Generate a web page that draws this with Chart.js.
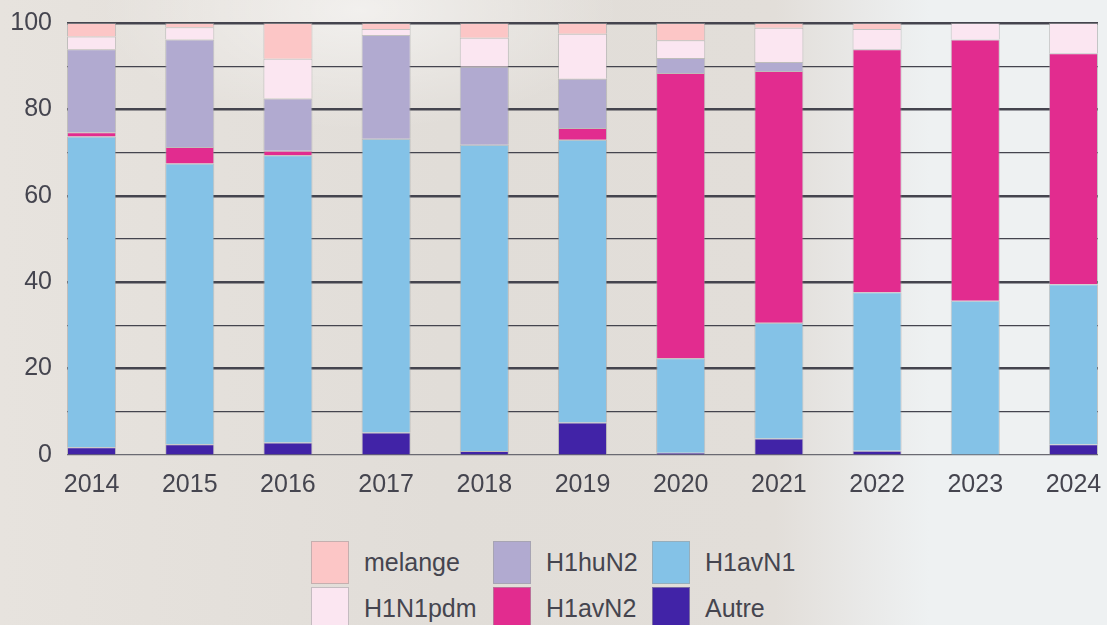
<!DOCTYPE html>
<html>
<head>
<meta charset="utf-8">
<script src="https://cdn.jsdelivr.net/npm/chart.js@4"></script>
<style>
    html, body {
        margin: 0;
        padding: 0;
        width: 1107px;
        height: 625px;
        overflow: hidden;
        font-family: 'Liberation Sans', Arial, sans-serif;
    }
    body {
        position: relative;
        background:
            radial-gradient(ellipse 260px 120px at 360px 10px, rgba(255,255,255,0.55), rgba(255,255,255,0) 100%),
            linear-gradient(90deg, #e7e3de 0%, #e1ddd8 40%, #e2ded9 70%, #e9e9e8 78%, #eef1f2 84%, #eef1f2 100%);
    }
    #chart {
        position: absolute;
        left: 0;
        top: 0;
    }
    #legend {
        position: absolute;
        left: 311px;
        top: 541px;
        display: grid;
        grid-template-columns: 182px 159px auto;
        grid-template-rows: 42px 42px;
        row-gap: 4px;
        grid-auto-flow: column;
    }
    .item {
        display: flex;
        align-items: center;
        font-size: 25px;
        color: #45454f;
    }
    .box {
        width: 36px;
        height: 41px;
        border: 1px solid rgba(160, 160, 160, 0.6);
        margin-right: 15px;
    }
</style>
</head>
<body>
<canvas id="chart" width="1107" height="510"></canvas>
<div id="legend"></div>
<script>
// years and share of each subtype (%)
var years = [2014, 2015, 2016, 2017, 2018, 2019, 2020, 2021, 2022, 2023, 2024];
var autre = [1.8, 2.5, 2.9, 5.2, 0.9, 7.5, 0.5, 3.8, 1.0, 0, 2.5];
var h1avN1 = [71.9, 65.0, 66.5, 68.0, 70.9, 65.5, 21.9, 26.8, 36.7, 35.7, 37.0];
var h1avN2 = [1.0, 3.8, 1.0, 0, 0, 2.7, 66.0, 58.3, 56.2, 60.5, 53.5];
var h1huN2 = [19.2, 24.9, 12.1, 24.0, 18.1, 11.4, 3.5, 2.1, 0, 0, 0];
var h1n1pdm = [3.0, 2.8, 9.2, 1.4, 6.7, 10.4, 4.1, 7.9, 4.7, 3.8, 7.0];
var melange = [3.1, 1.0, 8.3, 1.4, 3.4, 2.5, 4.0, 1.1, 1.4, 0, 0];
var yTicks = [0, 20, 40, 60, 80, 100];

// legend is read column by column
var legendOrder = ['melange', 'H1N1pdm', 'H1huN2', 'H1avN2', 'H1avN1', 'Autre'];

function points(values) {
    return years.map(function (y, i) { return { x: y, y: values[i] }; });
}

function series(label, values, color) {
    return {
        label: label,
        data: points(values),
        backgroundColor: color,
        borderColor: 'rgba(160, 160, 160, 0.55)',
        borderWidth: 1,
        categoryPercentage: 1,
        barPercentage: 0.5
    };
}

var datasets = [
    series('Autre', autre, '#4123a7'),
    series('H1avN1', h1avN1, '#84c2e7'),
    series('H1avN2', h1avN2, '#e22c8f'),
    series('H1huN2', h1huN2, '#b1aad0'),
    series('H1N1pdm', h1n1pdm, '#fbe6f1'),
    series('melange', melange, '#fcc6c6')
];

var ctx = document.getElementById('chart').getContext('2d');
new Chart(ctx, {
    type: 'bar',
    data: { datasets: datasets },
    options: {
        responsive: false,
        animation: false,
        devicePixelRatio: 1,
        layout: {
            padding: { top: 23, right: 9, left: 0, bottom: 0 }
        },
        plugins: {
            legend: { display: false },
            tooltip: { enabled: false }
        },
        scales: {
            x: {
                type: 'linear',
                stacked: true,
                offset: false,
                min: years[0] - 0.25,
                max: years[years.length - 1] + 0.25,
                afterBuildTicks: function (scale) {
                    scale.ticks = years.map(function (y) { return { value: y }; });
                },
                afterFit: function (scale) {
                    scale.height = 55;
                    scale.paddingLeft = 0;
                    scale.paddingRight = 0;
                },
                grid: { display: false },
                border: { display: false },
                ticks: {
                    padding: 7,
                    color: '#45454f',
                    font: { family: 'Liberation Sans', size: 25 },
                    callback: function (v) { return String(v); }
                }
            },
            y: {
                stacked: true,
                min: 0,
                max: 100,
                afterFit: function (scale) {
                    scale.width = 67;
                    scale.paddingTop = 0;
                    scale.paddingBottom = 0;
                },
                border: { display: false },
                grid: {
                    drawTicks: false,
                    color: function (c) {
                        return c.tick.value === 0 ? '#6a6a72' : '#44444e';
                    },
                    lineWidth: function (c) {
                        if (c.tick.value === 0) return 1.2;
                        return yTicks.indexOf(c.tick.value) >= 0 ? 2.5 : 1.3;
                    }
                },
                ticks: {
                    stepSize: 10,
                    padding: 15,
                    color: '#45454f',
                    font: { family: 'Liberation Sans', size: 25 },
                    callback: function (v) {
                        return yTicks.indexOf(v) >= 0 ? String(v) : '';
                    }
                }
            }
        }
    }
});

// html legend, 3 columns x 2 rows
var legend = document.getElementById('legend');
legendOrder.forEach(function (name) {
    var ds = datasets.filter(function (d) { return d.label === name; })[0];
    var item = document.createElement('div');
    item.className = 'item';
    var box = document.createElement('span');
    box.className = 'box';
    box.style.background = ds.backgroundColor;
    var txt = document.createElement('span');
    txt.textContent = name;
    item.appendChild(box);
    item.appendChild(txt);
    legend.appendChild(item);
});
</script>
</body>
</html>
